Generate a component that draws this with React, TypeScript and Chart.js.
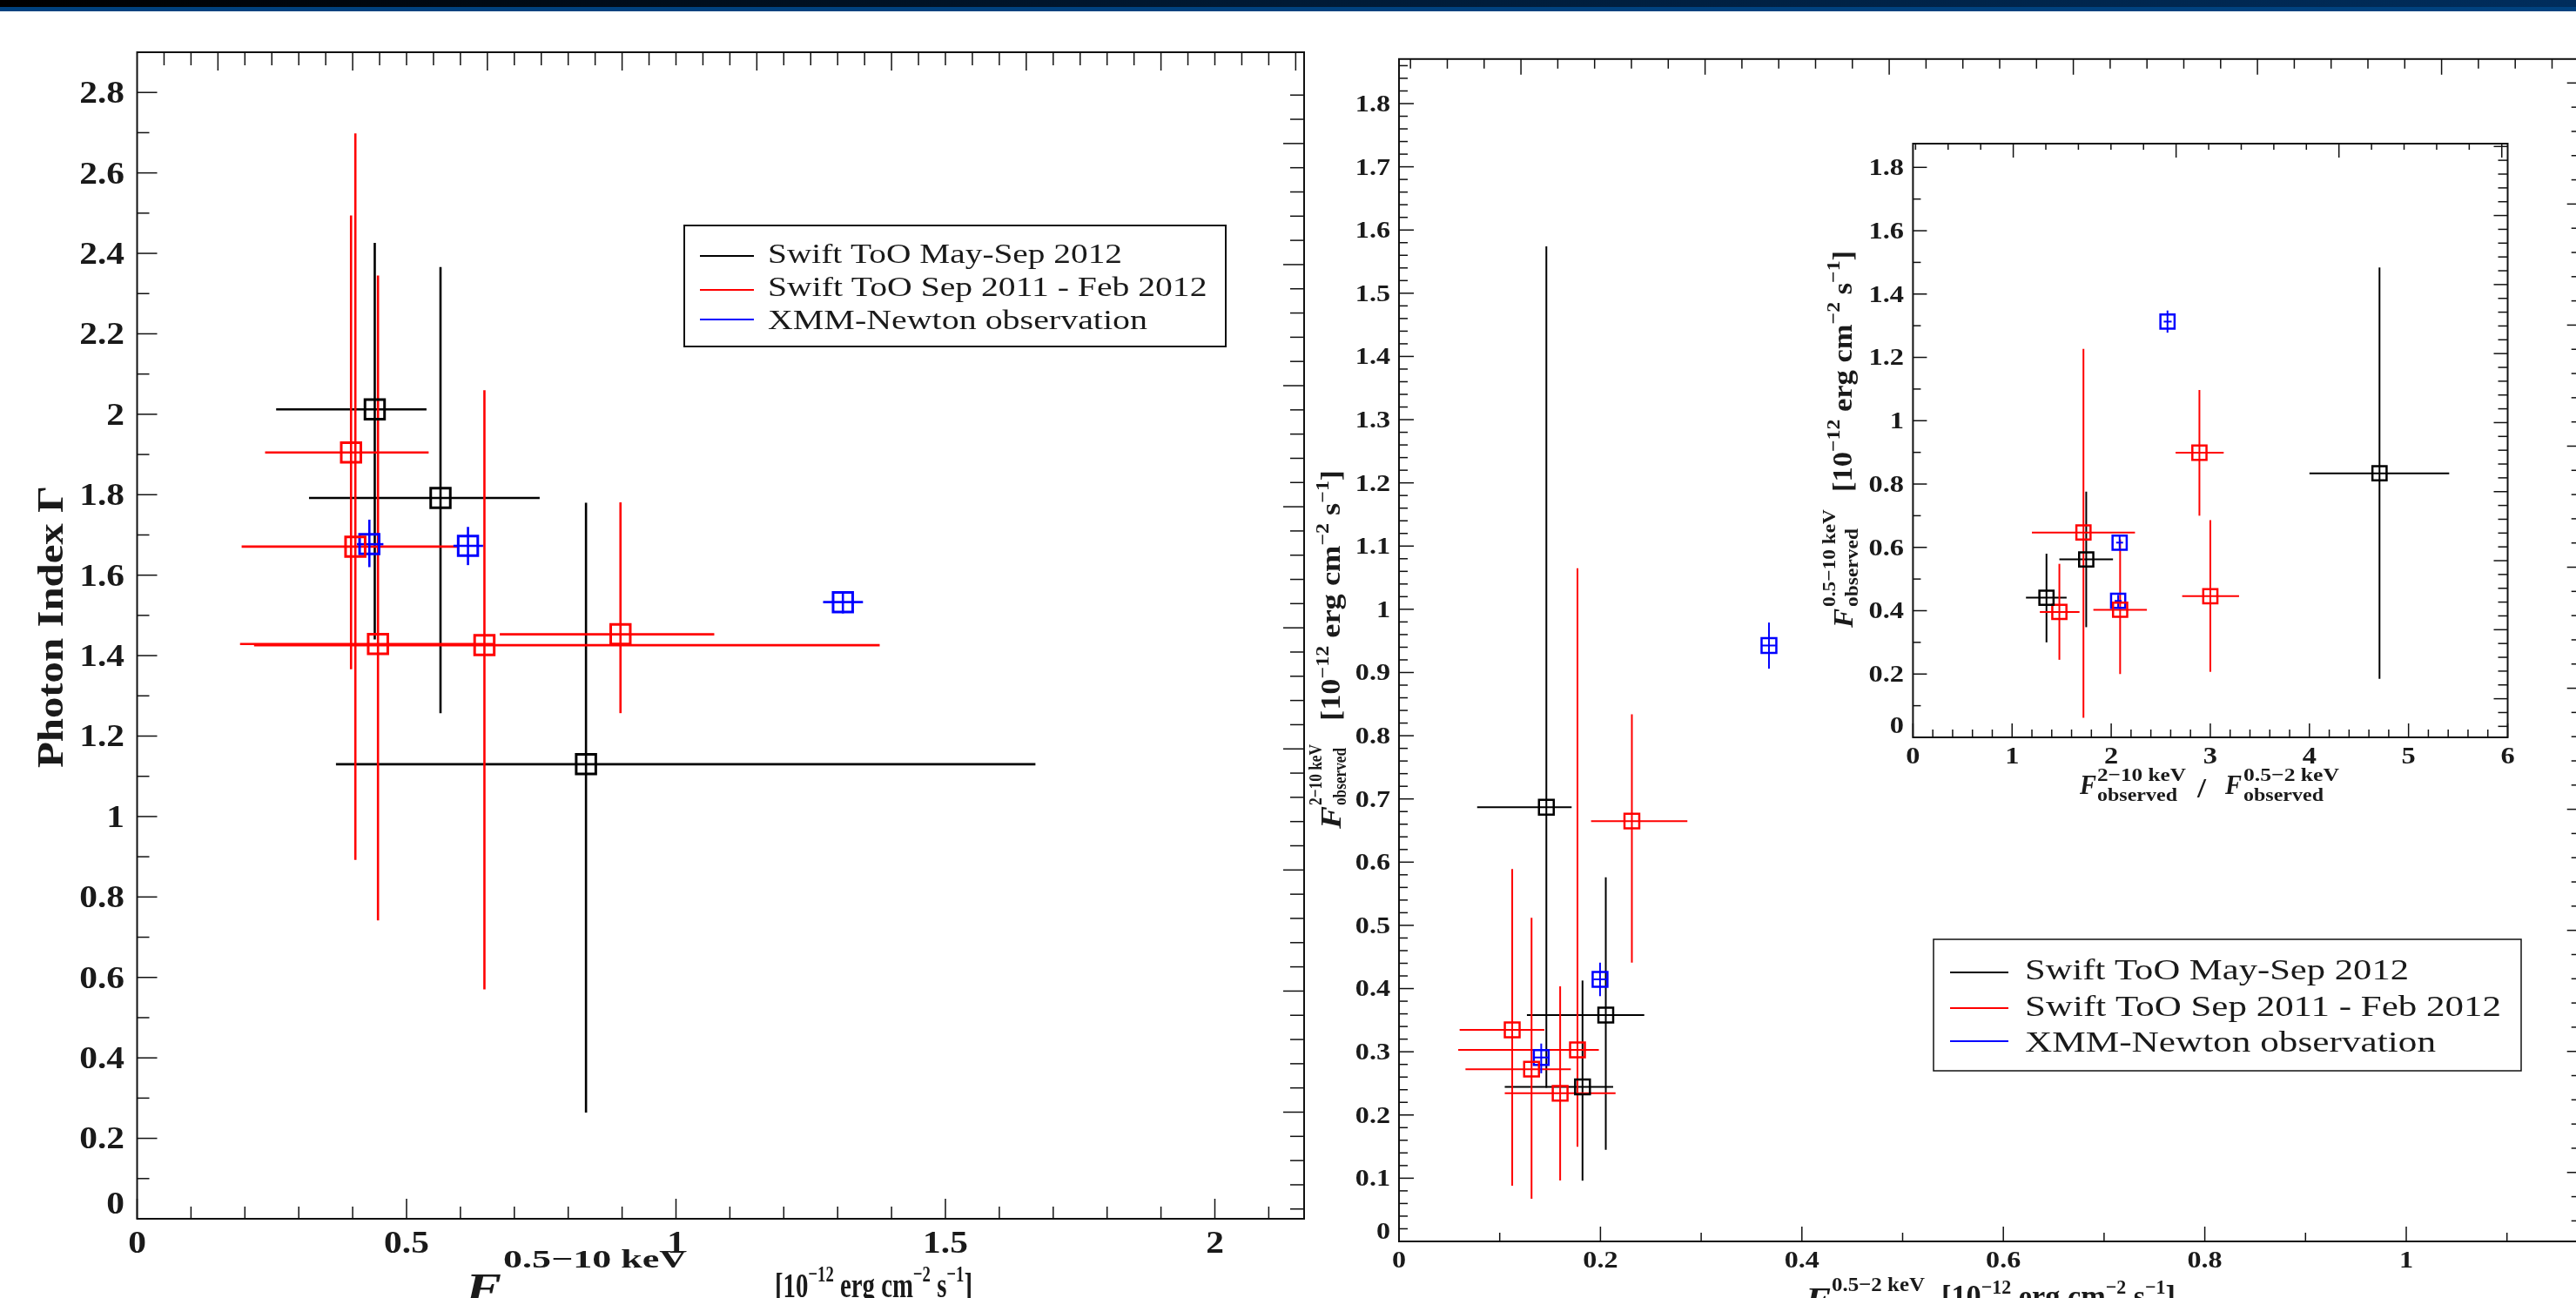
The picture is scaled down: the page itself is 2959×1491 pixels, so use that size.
import React, { useEffect, useRef } from "react";
import { Chart, registerables } from "chart.js";

Chart.register(...registerables);

const FONT = '"Liberation Serif", "Times New Roman", serif';

const seriesLabels = ["Swift ToO May-Sep 2012", "Swift ToO Sep 2011 - Feb 2012", "XMM-Newton observation"];
const seriesColors = ["#000000", "#ff0000", "#0000ff"];

// ---------- Left panel: photon index vs F(0.5-10 keV) ----------
const leftBlackX = [0.441, 0.563, 0.833];
const leftBlackY = [2.012, 1.792, 1.13];
const leftBlackXLo = [0.258, 0.319, 0.369];
const leftBlackXHi = [0.537, 0.747, 1.667];
const leftBlackYLo = [1.44, 1.257, 0.264];
const leftBlackYHi = [2.426, 2.366, 1.78];

const leftRedX = [0.397, 0.405, 0.447, 0.6445, 0.897];
const leftRedY = [1.905, 1.671, 1.429, 1.426, 1.453];
const leftRedXLo = [0.2375, 0.194, 0.191, 0.217, 0.673];
const leftRedXHi = [0.541, 0.597, 0.661, 1.378, 1.071];
const leftRedYLo = [1.366, 0.892, 0.742, 0.57, 1.257];
const leftRedYHi = [2.494, 2.698, 2.345, 2.06, 1.781];

const leftBlueX = [0.431, 0.614, 1.3097];
const leftBlueY = [1.677, 1.673, 1.533];
const leftBlueXLo = [0.408, 0.587, 1.273];
const leftBlueXHi = [0.457, 0.642, 1.347];
const leftBlueYLo = [1.62, 1.625, 1.505];
const leftBlueYHi = [1.738, 1.72, 1.559];

const leftXTicks = [0, 0.5, 1, 1.5, 2];
const leftXTickLabels = ["0", "0.5", "1", "1.5", "2"];
const leftYTicks = [0, 0.2, 0.4, 0.6, 0.8, 1, 1.2, 1.4, 1.6, 1.8, 2, 2.2, 2.4, 2.6, 2.8];
const leftYTickLabels = ["0", "0.2", "0.4", "0.6", "0.8", "1", "1.2", "1.4", "1.6", "1.8", "2", "2.2", "2.4", "2.6", "2.8"];

// ---------- Right panel: F(2-10 keV) vs F(0.5-2 keV) ----------
const rightBlackX = [0.1463, 0.2053, 0.1822];
const rightBlackY = [0.687, 0.358, 0.2443];
const rightBlackXLo = [0.0776, 0.127, 0.105];
const rightBlackXHi = [0.1714, 0.2435, 0.2126];
const rightBlackYLo = [0.243, 0.145, 0.0961];
const rightBlackYHi = [1.574, 0.576, 0.4127];

const rightRedX = [0.1124, 0.1316, 0.16, 0.1772, 0.2312];
const rightRedY = [0.3347, 0.2725, 0.2343, 0.303, 0.665];
const rightRedXLo = [0.0602, 0.066, 0.105, 0.0588, 0.1907];
const rightRedXHi = [0.1443, 0.1706, 0.215, 0.1984, 0.2863];
const rightRedYLo = [0.088, 0.0675, 0.0964, 0.1496, 0.441];
const rightRedYHi = [0.589, 0.512, 0.4036, 1.065, 0.834];

const rightBlueX = [0.1412, 0.1996, 0.3673];
const rightBlueY = [0.291, 0.4146, 0.9427];
const rightBlueXLo = [0.134, 0.193, 0.36];
const rightBlueXHi = [0.148, 0.207, 0.374];
const rightBlueYLo = [0.266, 0.388, 0.906];
const rightBlueYHi = [0.313, 0.441, 0.979];

const rightXTicks = [0, 0.2, 0.4, 0.6, 0.8, 1];
const rightXTickLabels = ["0", "0.2", "0.4", "0.6", "0.8", "1"];
const rightYTicks = [0, 0.1, 0.2, 0.3, 0.4, 0.5, 0.6, 0.7, 0.8, 0.9, 1, 1.1, 1.2, 1.3, 1.4, 1.5, 1.6, 1.7, 1.8];
const rightYTickLabels = ["0", "0.1", "0.2", "0.3", "0.4", "0.5", "0.6", "0.7", "0.8", "0.9", "1", "1.1", "1.2", "1.3", "1.4", "1.5", "1.6", "1.7", "1.8"];

// ---------- Inset: F(0.5-10 keV) vs hardness ratio ----------
const insetBlackX = [1.347, 1.748, 4.707];
const insetBlackY = [0.441, 0.562, 0.834];
const insetBlackXLo = [1.14, 1.477, 4.0];
const insetBlackXHi = [1.55, 2.018, 5.41];
const insetBlackYLo = [0.3, 0.348, 0.185];
const insetBlackYHi = [0.58, 0.776, 1.484];

const insetRedX = [1.477, 1.72, 2.09, 2.89, 3.0];
const insetRedY = [0.396, 0.647, 0.403, 0.899, 0.446];
const insetRedXLo = [1.28, 1.2, 1.82, 2.65, 2.716];
const insetRedXHi = [1.68, 2.24, 2.36, 3.135, 3.29];
const insetRedYLo = [0.245, 0.062, 0.2, 0.7, 0.207];
const insetRedYHi = [0.548, 1.227, 0.625, 1.097, 0.686];

const insetBlueX = [2.07, 2.085, 2.568];
const insetBlueY = [0.431, 0.615, 1.313];
const insetBlueXLo = [2.035, 2.05, 2.53];
const insetBlueXHi = [2.105, 2.12, 2.61];
const insetBlueYLo = [0.41, 0.595, 1.278];
const insetBlueYHi = [0.45, 0.635, 1.348];

const insetXTicks = [0, 1, 2, 3, 4, 5, 6];
const insetXTickLabels = ["0", "1", "2", "3", "4", "5", "6"];
const insetYTicks = [0, 0.2, 0.4, 0.6, 0.8, 1, 1.2, 1.4, 1.6, 1.8];
const insetYTickLabels = ["0", "0.2", "0.4", "0.6", "0.8", "1", "1.2", "1.4", "1.6", "1.8"];

// ---------- types ----------
interface Series { label: string; color: string; x: number[]; y: number[]; xlo: number[]; xhi: number[]; ylo: number[]; yhi: number[] }
interface Run { s: string; size: number; dy?: number; bold?: boolean; italic?: boolean }
interface Piece { x: number; y: number; w: number; rot?: boolean; runs: Run[] }
interface Secondary { start: number; step: number; count: number; longEvery: number; longOffset: number; short: number; long: number }
interface Legend { box: [number, number, number, number]; lineX: [number, number]; textX: number; lineY: number[]; base: number[]; w: number[]; size: number; lineW: number }
interface PanelCfg {
  name: string; left: number; top: number; width: number; height: number;
  area: { l: number; t: number; r: number; b: number };
  xMin: number; xMax: number; yMin: number; yMax: number;
  series: Series[]; radius: number; squareW: number; barW: number; frameW: number;
  xTicks: number[]; xTickLabels: string[]; xMinor: number;
  yTicks: number[]; yTickLabels: string[]; yMinor: number;
  majorLen: number; minorLen: number;
  top2: Secondary; right2: Secondary;
  labelSize: number; labelSx: number; xLabelBase: number; yLabelRight: number; zeroLift: number;
  pieces: Piece[]; legend?: Legend;
}

function mk(label: number, x: number[], y: number[], xlo: number[], xhi: number[], ylo: number[], yhi: number[]): Series {
  return { label: seriesLabels[label], color: seriesColors[label], x, y, xlo, xhi, ylo, yhi };
}

function fontOf(r: Run) {
  return `${r.italic ? "italic " : ""}${r.bold ? "bold " : ""}${r.size}px ${FONT}`;
}

function drawPiece(ctx: CanvasRenderingContext2D, p: Piece, ox: number, oy: number) {
  ctx.save();
  ctx.fillStyle = "#1a1a1a";
  ctx.textAlign = "left";
  ctx.textBaseline = "alphabetic";
  ctx.translate(p.x - ox, p.y - oy);
  if (p.rot) ctx.rotate(-Math.PI / 2);
  let nat = 0;
  for (const r of p.runs) { ctx.font = fontOf(r); nat += ctx.measureText(r.s).width; }
  ctx.scale(p.w / nat, 1);
  let cx = 0;
  for (const r of p.runs) {
    ctx.font = fontOf(r);
    ctx.fillText(r.s, cx, r.dy || 0);
    cx += ctx.measureText(r.s).width;
  }
  ctx.restore();
}

function drawLabel(ctx: CanvasRenderingContext2D, s: string, x: number, base: number, size: number, sx: number, align: string) {
  ctx.save();
  ctx.font = `bold ${size}px ${FONT}`;
  ctx.fillStyle = "#1a1a1a";
  ctx.textBaseline = "alphabetic";
  ctx.textAlign = "left";
  const w = ctx.measureText(s).width * sx;
  const x0 = align === "right" ? x - w : align === "center" ? x - w / 2 : x;
  ctx.translate(x0, base);
  ctx.scale(sx, 1);
  ctx.fillText(s, 0, 0);
  ctx.restore();
}

function line(ctx: CanvasRenderingContext2D, x1: number, y1: number, x2: number, y2: number) {
  ctx.beginPath(); ctx.moveTo(x1, y1); ctx.lineTo(x2, y2); ctx.stroke();
}

function makePlugin(cfg: PanelCfg) {
  return {
    id: "idl_" + cfg.name,
    beforeDatasetsDraw(chart: any) {
      const ctx: CanvasRenderingContext2D = chart.ctx;
      const xs = chart.scales.x, ys = chart.scales.y;
      ctx.save();
      ctx.lineWidth = cfg.barW;
      ctx.lineCap = "butt";
      for (const s of cfg.series) {
        ctx.strokeStyle = s.color;
        for (let i = 0; i < s.x.length; i++) {
          const px = xs.getPixelForValue(s.x[i]);
          const py = ys.getPixelForValue(s.y[i]);
          line(ctx, xs.getPixelForValue(s.xlo[i]), py, xs.getPixelForValue(s.xhi[i]), py);
          line(ctx, px, ys.getPixelForValue(s.ylo[i]), px, ys.getPixelForValue(s.yhi[i]));
        }
      }
      ctx.restore();
    },
    afterDatasetsDraw(chart: any) {
      const ctx: CanvasRenderingContext2D = chart.ctx;
      const xs = chart.scales.x, ys = chart.scales.y;
      const a = chart.chartArea;
      const ox = cfg.left, oy = cfg.top;
      ctx.save();
      ctx.strokeStyle = "#111";
      ctx.lineWidth = cfg.frameW;
      ctx.strokeRect(a.left, a.top, a.right - a.left, a.bottom - a.top);
      ctx.lineWidth = 1.5;
      const eps = 1e-6;
      for (let v = cfg.xMin; v <= cfg.xMax + eps; v += cfg.xMinor) {
        const vv = Math.round(v * 1000) / 1000;
        const major = cfg.xTicks.some((t) => Math.abs(t - vv) < 1e-4);
        const px = xs.getPixelForValue(vv);
        line(ctx, px, a.bottom, px, a.bottom - (major ? cfg.majorLen : cfg.minorLen));
      }
      for (let v = cfg.yMin; v <= cfg.yMax + eps; v += cfg.yMinor) {
        const vv = Math.round(v * 1000) / 1000;
        const major = cfg.yTicks.some((t) => Math.abs(t - vv) < 1e-4);
        const py = ys.getPixelForValue(vv);
        line(ctx, a.left, py, a.left + (major ? cfg.majorLen : cfg.minorLen), py);
      }
      const t2 = cfg.top2;
      for (let k = 0; k < t2.count; k++) {
        const v = t2.start + k * t2.step;
        if (v < cfg.xMin || v > cfg.xMax) continue;
        const px = xs.getPixelForValue(v);
        const long = (k - t2.longOffset) % t2.longEvery === 0;
        line(ctx, px, a.top, px, a.top + (long ? t2.long : t2.short));
      }
      const r2 = cfg.right2;
      for (let k = 0; k < r2.count; k++) {
        const v = r2.start + k * r2.step;
        if (v < cfg.yMin || v > cfg.yMax) continue;
        const py = ys.getPixelForValue(v);
        const long = (k - r2.longOffset) % r2.longEvery === 0;
        line(ctx, a.right, py, a.right - (long ? r2.long : r2.short), py);
      }
      const dh = cfg.labelSize * 0.66;
      cfg.xTicks.forEach((t, i) => {
        drawLabel(ctx, cfg.xTickLabels[i], xs.getPixelForValue(t), cfg.xLabelBase - oy, cfg.labelSize, cfg.labelSx, "center");
      });
      cfg.yTicks.forEach((t, i) => {
        let cy = ys.getPixelForValue(t);
        if (t === cfg.yMin) cy -= cfg.zeroLift;
        drawLabel(ctx, cfg.yTickLabels[i], cfg.yLabelRight - ox, cy + dh / 2, cfg.labelSize, cfg.labelSx, "right");
      });
      const L = cfg.legend;
      if (L) {
        ctx.lineWidth = L.lineW;
        ctx.strokeStyle = "#111";
        ctx.strokeRect(L.box[0] - ox, L.box[1] - oy, L.box[2] - L.box[0], L.box[3] - L.box[1]);
        cfg.series.forEach((s, i) => {
          ctx.strokeStyle = s.color;
          ctx.lineWidth = 2;
          line(ctx, L.lineX[0] - ox, L.lineY[i] - oy, L.lineX[1] - ox, L.lineY[i] - oy);
          drawPiece(ctx, { x: L.textX, y: L.base[i], w: L.w[i], runs: [{ s: s.label, size: L.size }] }, ox, oy);
        });
      }
      for (const p of cfg.pieces) drawPiece(ctx, p, ox, oy);
      ctx.restore();
    },
  };
}

function bracketRuns(main: number, sup: number, d: number, bold: boolean): Run[] {
  return [
    { s: "[10", size: main, bold },
    { s: "\u221212", size: sup, bold, dy: -d },
    { s: " erg cm", size: main, bold },
    { s: "\u22122", size: sup, bold, dy: -d },
    { s: " s", size: main, bold },
    { s: "\u22121", size: sup, bold, dy: -d },
    { s: "]", size: main, bold },
  ];
}

const leftPanel: PanelCfg = {
  name: "left", left: 0, top: 14, width: 1545, height: 1477,
  area: { l: 157.5, t: 60, r: 1498, b: 1400 },
  xMin: 0, xMax: 2.1656, yMin: 0, yMax: 2.9,
  series: [
    mk(0, leftBlackX, leftBlackY, leftBlackXLo, leftBlackXHi, leftBlackYLo, leftBlackYHi),
    mk(1, leftRedX, leftRedY, leftRedXLo, leftRedXHi, leftRedYLo, leftRedYHi),
    mk(2, leftBlueX, leftBlueY, leftBlueXLo, leftBlueXHi, leftBlueYLo, leftBlueYHi),
  ],
  radius: 15.9, squareW: 3, barW: 2.6, frameW: 2,
  xTicks: leftXTicks, xTickLabels: leftXTickLabels, xMinor: 0.1,
  yTicks: leftYTicks, yTickLabels: leftYTickLabels, yMinor: 0.1,
  majorLen: 23, minorLen: 14,
  top2: { start: 0.05, step: 0.05, count: 44, longEvery: 5, longOffset: 2, short: 15, long: 21 },
  right2: { start: 2.7935, step: -0.0602, count: 48, longEvery: 5, longOffset: 2, short: 16, long: 24 },
  labelSize: 36, labelSx: 1.15, xLabelBase: 1439, yLabelRight: 143, zeroLift: 18,
  pieces: [
    { x: 72, y: 882, w: 324, rot: true, runs: [{ s: "Photon Index \u0393", size: 42, bold: true }] },
    { x: 535, y: 1495, w: 41, runs: [{ s: "F", size: 47, bold: true, italic: true }] },
    { x: 578, y: 1456, w: 211, runs: [{ s: "0.5\u221210 keV", size: 30, bold: true }] },
    { x: 578, y: 1512, w: 165, runs: [{ s: "observed", size: 30, bold: true }] },
    { x: 890, y: 1490, w: 227, runs: bracketRuns(40, 26, 18, true) },
  ],
  legend: {
    box: [786, 259, 1408, 398], lineX: [804, 866], textX: 882,
    lineY: [294, 333, 367], base: [302, 340, 378], w: [407, 504.5, 436], size: 32, lineW: 2,
  },
};

const rightPanel: PanelCfg = {
  name: "right", left: 1500, top: 14, width: 1500, height: 1477,
  area: { l: 1607, t: 67.8, r: 2960.7, b: 1426 },
  xMin: 0, xMax: 1.17, yMin: 0, yMax: 1.8705,
  series: [
    mk(0, rightBlackX, rightBlackY, rightBlackXLo, rightBlackXHi, rightBlackYLo, rightBlackYHi),
    mk(1, rightRedX, rightRedY, rightRedXLo, rightRedXHi, rightRedYLo, rightRedYHi),
    mk(2, rightBlueX, rightBlueY, rightBlueXLo, rightBlueXHi, rightBlueYLo, rightBlueYHi),
  ],
  radius: 12, squareW: 2.5, barW: 2, frameW: 2,
  xTicks: rightXTicks, xTickLabels: rightXTickLabels, xMinor: 0.1,
  yTicks: rightYTicks, yTickLabels: rightYTickLabels, yMinor: 0.02,
  majorLen: 17, minorLen: 10,
  top2: { start: 0.0114, step: 0.03656, count: 33, longEvery: 5, longOffset: 3, short: 11, long: 18 },
  right2: { start: 1.8326, step: -0.0383, count: 49, longEvery: 5, longOffset: 0, short: 7, long: 12 },
  labelSize: 27, labelSx: 1.19, xLabelBase: 1456, yLabelRight: 1597, zeroLift: 12,
  pieces: [
    { x: 1540, y: 952, w: 26, rot: true, runs: [{ s: "F", size: 34, bold: true, italic: true }] },
    { x: 1518, y: 925, w: 70, rot: true, runs: [{ s: "2\u221210 keV", size: 22, bold: true }] },
    { x: 1546, y: 925, w: 66, rot: true, runs: [{ s: "observed", size: 22, bold: true }] },
    { x: 1539, y: 828, w: 288, rot: true, runs: bracketRuns(32, 21, 13, true) },
    { x: 2074, y: 1505, w: 29, runs: [{ s: "F", size: 38, bold: true, italic: true }] },
    { x: 2104, y: 1483, w: 107, runs: [{ s: "0.5\u22122 keV", size: 24, bold: true }] },
    { x: 2104, y: 1516, w: 92, runs: [{ s: "observed", size: 24, bold: true }] },
    { x: 2230, y: 1501, w: 269, runs: bracketRuns(36, 23, 15, true) },
  ],
  legend: {
    box: [2221, 1079, 2896, 1230], lineX: [2240, 2307], textX: 2326,
    lineY: [1117, 1158, 1196], base: [1125, 1167, 1208], w: [441, 547, 472], size: 34, lineW: 1.5,
  },
};

const insetPanel: PanelCfg = {
  name: "inset", left: 1960, top: 100, width: 990, height: 900,
  area: { l: 2197.4, t: 165, r: 2880.5, b: 847 },
  xMin: 0, xMax: 6, yMin: 0, yMax: 1.875,
  series: [
    mk(0, insetBlackX, insetBlackY, insetBlackXLo, insetBlackXHi, insetBlackYLo, insetBlackYHi),
    mk(1, insetRedX, insetRedY, insetRedXLo, insetRedXHi, insetRedYLo, insetRedYHi),
    mk(2, insetBlueX, insetBlueY, insetBlueXLo, insetBlueXHi, insetBlueYLo, insetBlueYHi),
  ],
  radius: 11.5, squareW: 2.5, barW: 2, frameW: 2,
  xTicks: insetXTicks, xTickLabels: insetXTickLabels, xMinor: 0.2,
  yTicks: insetYTicks, yTickLabels: insetYTickLabels, yMinor: 0.1,
  majorLen: 16, minorLen: 9,
  top2: { start: 0.026, step: 0.3286, count: 19, longEvery: 5, longOffset: 3, short: 7, long: 16 },
  right2: { start: 1.866, step: -0.0436, count: 44, longEvery: 5, longOffset: 0, short: 11, long: 16 },
  labelSize: 27, labelSx: 1.2, xLabelBase: 877, yLabelRight: 2187, zeroLift: 14,
  pieces: [
    { x: 2128, y: 721, w: 22, rot: true, runs: [{ s: "F", size: 32, bold: true, italic: true }] },
    { x: 2108, y: 697, w: 112, rot: true, runs: [{ s: "0.5\u221210 keV", size: 22, bold: true }] },
    { x: 2134, y: 697, w: 90, rot: true, runs: [{ s: "observed", size: 22, bold: true }] },
    { x: 2127, y: 565, w: 277, rot: true, runs: bracketRuns(32, 22, 14, true) },
    { x: 2389, y: 912, w: 19, runs: [{ s: "F", size: 32, bold: true, italic: true }] },
    { x: 2409, y: 897, w: 102, runs: [{ s: "2\u221210 keV", size: 22, bold: true }] },
    { x: 2409, y: 920, w: 92, runs: [{ s: "observed", size: 22, bold: true }] },
    { x: 2524, y: 916, w: 10, runs: [{ s: "/", size: 32, bold: true }] },
    { x: 2556, y: 912, w: 19, runs: [{ s: "F", size: 32, bold: true, italic: true }] },
    { x: 2577, y: 897, w: 110, runs: [{ s: "0.5\u22122 keV", size: 22, bold: true }] },
    { x: 2577, y: 920, w: 92, runs: [{ s: "observed", size: 22, bold: true }] },
  ],
};

function Panel({ cfg }: { cfg: PanelCfg }) {
  const ref = useRef<HTMLCanvasElement>(null);
  useEffect(() => {
    const canvas = ref.current;
    if (!canvas) return;
    const a = cfg.area;
    const chart = new Chart(canvas, {
      type: "scatter",
      data: {
        datasets: cfg.series.map((s) => ({
          label: s.label,
          data: s.x.map((v, i) => ({ x: v, y: s.y[i] })),
          pointStyle: "rect",
          pointRadius: cfg.radius,
          pointHoverRadius: cfg.radius,
          pointBorderWidth: cfg.squareW,
          borderColor: s.color,
          pointBorderColor: s.color,
          backgroundColor: "rgba(0,0,0,0)",
          pointBackgroundColor: "rgba(0,0,0,0)",
          showLine: false,
        })),
      },
      options: {
        responsive: false,
        maintainAspectRatio: false,
        animation: false,
        devicePixelRatio: 1,
        events: [],
        layout: {
          padding: {
            left: a.l - cfg.left,
            top: a.t - cfg.top,
            right: cfg.left + cfg.width - a.r,
            bottom: cfg.top + cfg.height - a.b,
          },
        },
        plugins: { legend: { display: false }, tooltip: { enabled: false }, title: { display: false } },
        scales: {
          x: { type: "linear", min: cfg.xMin, max: cfg.xMax, display: false },
          y: { type: "linear", min: cfg.yMin, max: cfg.yMax, display: false },
        },
      } as any,
      plugins: [makePlugin(cfg) as any],
    });
    return () => chart.destroy();
  }, [cfg]);
  return (
    <canvas
      ref={ref}
      width={cfg.width}
      height={cfg.height}
      style={{ position: "absolute", left: cfg.left, top: cfg.top, width: cfg.width, height: cfg.height }}
    />
  );
}

export default function App() {
  return (
    <div style={{ position: "fixed", left: 0, top: 0, width: 2959, height: 1491, overflow: "hidden", background: "#ffffff" }}>
      <div style={{ position: "absolute", left: 0, top: 0, width: 2959, height: 8, background: "linear-gradient(90deg, #000000 0%, #001a35 50%, #002d5c 100%)" }} />
      <div style={{ position: "absolute", left: 0, top: 8, width: 2959, height: 5, background: "#00427f" }} />
      <Panel cfg={leftPanel} />
      <Panel cfg={rightPanel} />
      <Panel cfg={insetPanel} />
    </div>
  );
}
